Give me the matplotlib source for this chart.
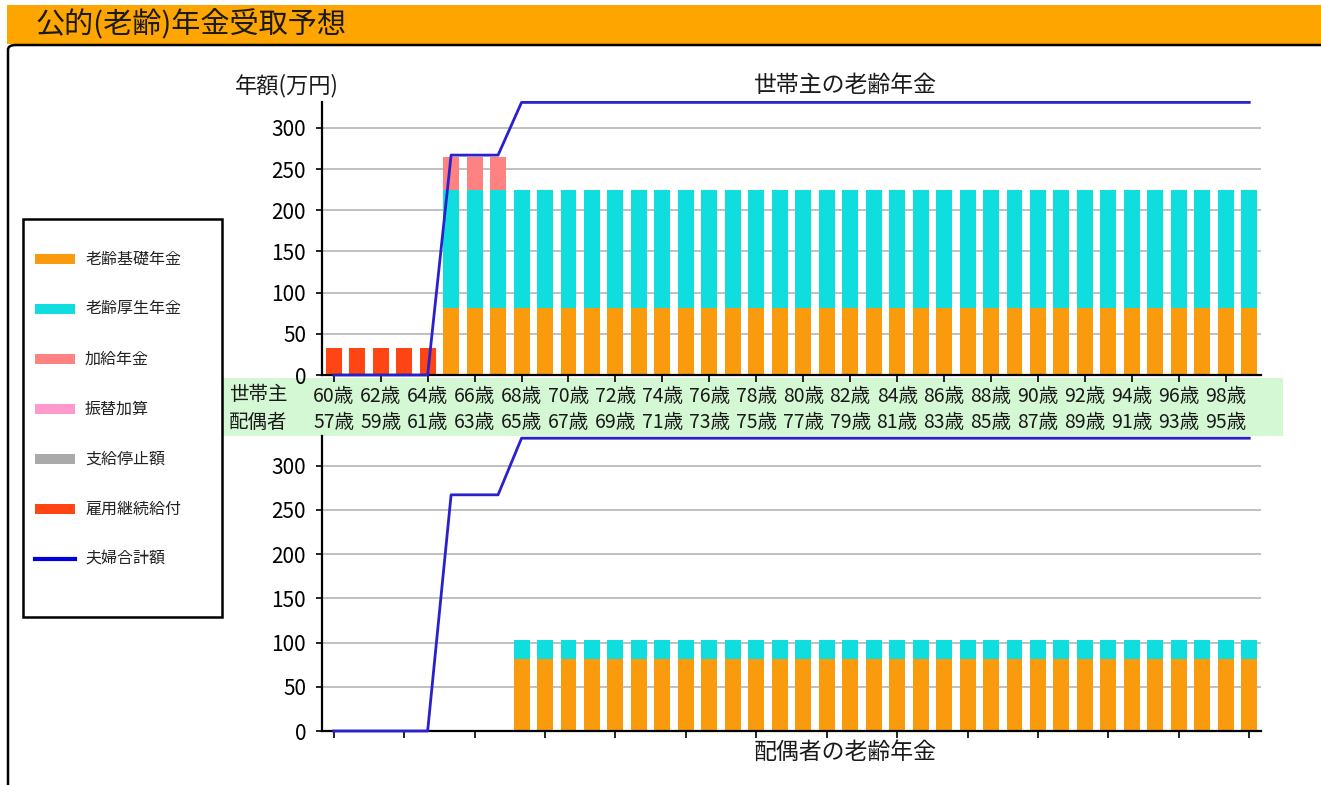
import matplotlib
matplotlib.use('Agg')
import matplotlib.pyplot as plt
from matplotlib.patches import Rectangle, FancyBboxPatch
from matplotlib.lines import Line2D
from matplotlib.transforms import blended_transform_factory
import numpy as np

plt.rcParams['font.family'] = ['Noto Sans CJK JP', 'DejaVu Sans']

W, H, DPI = 1321, 785, 100

# ---------------- data ----------------
head_ages = [60, 61, 62, 63, 64, 65, 66, 67, 68, 69, 70, 71, 72, 73, 74, 75, 76, 77, 78, 79,
             80, 81, 82, 83, 84, 85, 86, 87, 88, 89, 90, 91, 92, 93, 94, 95, 96, 97, 98, 99]
head_tick_labels = ["60歳", "62歳", "64歳", "66歳", "68歳", "70歳", "72歳", "74歳", "76歳", "78歳",
                    "80歳", "82歳", "84歳", "86歳", "88歳", "90歳", "92歳", "94歳", "96歳", "98歳"]
spouse_tick_labels = ["57歳", "59歳", "61歳", "63歳", "65歳", "67歳", "69歳", "71歳", "73歳", "75歳",
                      "77歳", "79歳", "81歳", "83歳", "85歳", "87歳", "89歳", "91歳", "93歳", "95歳"]

# 世帯主 (head of household)
head_kiso = [0, 0, 0, 0, 0, 81, 81, 81, 81, 81, 81, 81, 81, 81, 81, 81, 81, 81, 81, 81,
             81, 81, 81, 81, 81, 81, 81, 81, 81, 81, 81, 81, 81, 81, 81, 81, 81, 81, 81, 81]
head_kosei = [0, 0, 0, 0, 0, 144, 144, 144, 144, 144, 144, 144, 144, 144, 144, 144, 144, 144, 144, 144,
              144, 144, 144, 144, 144, 144, 144, 144, 144, 144, 144, 144, 144, 144, 144, 144, 144, 144, 144, 144]
head_kakyu = [0, 0, 0, 0, 0, 40, 40, 40, 0, 0, 0, 0, 0, 0, 0, 0, 0, 0, 0, 0,
              0, 0, 0, 0, 0, 0, 0, 0, 0, 0, 0, 0, 0, 0, 0, 0, 0, 0, 0, 0]
head_koyou = [33, 33, 33, 33, 33, 0, 0, 0, 0, 0, 0, 0, 0, 0, 0, 0, 0, 0, 0, 0,
              0, 0, 0, 0, 0, 0, 0, 0, 0, 0, 0, 0, 0, 0, 0, 0, 0, 0, 0, 0]

# 配偶者 (spouse)
spouse_kiso = [0, 0, 0, 0, 0, 0, 0, 0, 81, 81, 81, 81, 81, 81, 81, 81, 81, 81, 81, 81,
               81, 81, 81, 81, 81, 81, 81, 81, 81, 81, 81, 81, 81, 81, 81, 81, 81, 81, 81, 81]
spouse_kosei = [0, 0, 0, 0, 0, 0, 0, 0, 22, 22, 22, 22, 22, 22, 22, 22, 22, 22, 22, 22,
                22, 22, 22, 22, 22, 22, 22, 22, 22, 22, 22, 22, 22, 22, 22, 22, 22, 22, 22, 22]

# 夫婦合計額 (couple total)
couple_total = [0, 0, 0, 0, 0, 267, 267, 267, 331, 331, 331, 331, 331, 331, 331, 331, 331, 331, 331, 331,
                331, 331, 331, 331, 331, 331, 331, 331, 331, 331, 331, 331, 331, 331, 331, 331, 331, 331, 331, 331]

legend_labels = ["老齢基礎年金", "老齢厚生年金", "加給年金", "振替加算", "支給停止額", "雇用継続給付", "夫婦合計額"]
yticks = [0, 50, 100, 150, 200, 250, 300]

# ---------------- style ----------------
C_KISO = '#F99B0D'
C_KOSEI = '#10DEDE'
C_KAKYU = '#FF8282'
C_FURIKAE = '#FF99CC'
C_TEISHI = '#AAAAAA'
C_KOYOU = '#FF4513'
C_LINE = '#2A20CC'
C_LINE_LEG = '#0000DD'
BAR_W = 0.68
FS_TICK = 15
FS_AGE = 14
FS_TITLE = 16.5
TXT = '#1A1A1A'

fig = plt.figure(figsize=(W / DPI, H / DPI), dpi=DPI)


def fx(px):
    return px / W


def fy(py):
    return 1 - py / H


# header band and frame
fig.patches.append(Rectangle((fx(7), fy(44)), fx(W - 7), 39 / H, transform=fig.transFigure,
                             facecolor='#FFA500', edgecolor='none', zorder=-2))
fig.patches.append(FancyBboxPatch((fx(8), fy(800)), fx(W + 20), (800 - 45) / H,
                                  boxstyle='round,pad=0,rounding_size=0.006',
                                  transform=fig.transFigure, facecolor='none',
                                  edgecolor='black', lw=1.8, zorder=-1))
fig.text(fx(36), fy(25), "公的(老齢)年金受取予想", fontsize=21, va='center', ha='left', color=TXT)

# green age band
fig.patches.append(Rectangle((fx(222), fy(436)), fx(1283 - 222), 58 / H, transform=fig.transFigure,
                             facecolor='#D4F7D4', edgecolor='none', zorder=-2))
fig.text(fx(229), fy(395), "世帯主", fontsize=FS_AGE, va='center', ha='left', color=TXT, zorder=5)
fig.text(fx(229), fy(423), "配偶者", fontsize=FS_AGE, va='center', ha='left', color=TXT, zorder=5)

x = np.arange(len(head_ages))

ax1 = fig.add_axes([fx(322), fy(375), fx(1261 - 322), (375 - 102) / H])
ax2 = fig.add_axes([fx(322), fy(731), fx(1261 - 322), (731 - 436) / H])

for ax in (ax1, ax2):
    ax.set_facecolor('none')
    ax.set_xlim(-0.5, len(x) - 0.5)
    ax.set_yticks(yticks)
    ax.yaxis.grid(True, color='#BBBBBB', lw=1.3)
    ax.set_axisbelow(True)
    for s in ('top', 'right'):
        ax.spines[s].set_visible(False)
    for s in ('left', 'bottom'):
        ax.spines[s].set_linewidth(1.6)
        ax.spines[s].set_color('black')
    ax.tick_params(axis='y', labelsize=FS_TICK, length=4.5, width=1.2, pad=7, colors='black')
    ax.tick_params(axis='x', length=5, width=1.2, labelbottom=False)

ax1.set_ylim(0, 331.5)
ax2.set_ylim(0, 333.5)

# top chart bars
b0 = np.zeros(len(x))
ax1.bar(x, head_koyou, BAR_W, bottom=b0, color=C_KOYOU, zorder=2)
b1 = b0 + np.array(head_koyou)
ax1.bar(x, head_kiso, BAR_W, bottom=b1, color=C_KISO, zorder=2)
b2 = b1 + np.array(head_kiso)
ax1.bar(x, head_kosei, BAR_W, bottom=b2, color=C_KOSEI, zorder=2)
b3 = b2 + np.array(head_kosei)
ax1.bar(x, head_kakyu, BAR_W, bottom=b3, color=C_KAKYU, zorder=2)
ax1.plot(x, couple_total, color=C_LINE, lw=2, zorder=3, clip_on=False)

# bottom chart bars
ax2.bar(x, spouse_kiso, BAR_W, color=C_KISO, zorder=2)
ax2.bar(x, spouse_kosei, BAR_W, bottom=spouse_kiso, color=C_KOSEI, zorder=2)
ax2.plot(x, couple_total, color=C_LINE, lw=2, zorder=3, clip_on=False)

ax1.set_xticks(x[::2])
ax2.set_xticks(x[::3])

# age labels in the band
tr = blended_transform_factory(ax1.transData, fig.transFigure)
for xi, lh, ls in zip(x[::2], head_tick_labels, spouse_tick_labels):
    fig.text(xi, fy(396), lh, transform=tr, ha='center', va='center', fontsize=FS_AGE, color=TXT, zorder=5)
    fig.text(xi, fy(423), ls, transform=tr, ha='center', va='center', fontsize=FS_AGE, color=TXT, zorder=5)

# titles
fig.text(fx(287), fy(86), "年額(万円)", fontsize=FS_TITLE - 0.5, ha='center', va='center', color=TXT)
fig.text(fx(845), fy(86), "世帯主の老齢年金", fontsize=FS_TITLE, ha='center', va='center', color=TXT)
fig.text(fx(845), fy(752), "配偶者の老齢年金", fontsize=FS_TITLE, ha='center', va='center', color=TXT)

# legend panel
lax = fig.add_axes([fx(23), fy(617), fx(222 - 23), (617 - 219) / H])
lax.set_xlim(0, 199)
lax.set_ylim(398, 0)
lax.axis('off')
lax.add_patch(Rectangle((0, 0), 199, 398, facecolor='white', edgecolor='black', lw=1.8, clip_on=False))
leg_colors = [C_KISO, C_KOSEI, C_KAKYU, C_FURIKAE, C_TEISHI, C_KOYOU]
for i, lab in enumerate(legend_labels):
    yc = 40 + 50 * i
    if i < len(leg_colors):
        lax.add_patch(Rectangle((12, yc - 5), 40, 10, facecolor=leg_colors[i], edgecolor='none'))
    else:
        lax.add_line(Line2D([12, 52], [yc, yc], color=C_LINE_LEG, lw=3))
    lax.text(62, yc, lab, fontsize=11.5, va='center', ha='left', color='#222222')

fig.savefig('out.png', dpi=DPI)
